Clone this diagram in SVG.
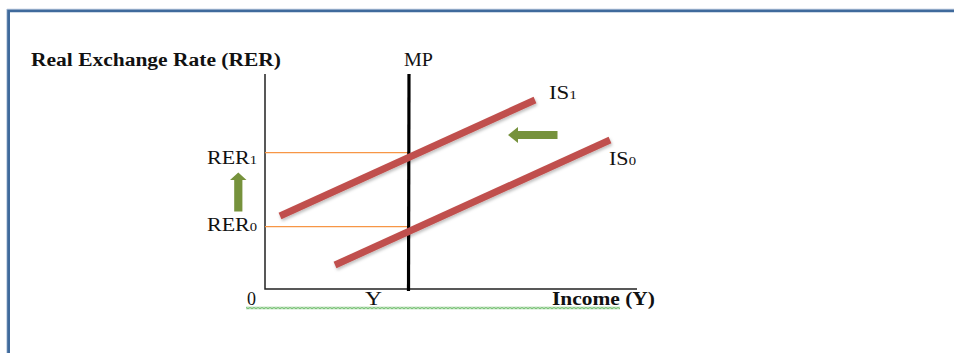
<svg xmlns="http://www.w3.org/2000/svg" width="954" height="353" viewBox="0 0 954 353">
  <defs>
    <style>
      .lbl { font-family: "Liberation Serif", "Times New Roman", serif; fill: #111; }
      .bold { font-weight: bold; }
      .axis { stroke: #222; stroke-width: 1.5; fill: none; }
      .guide { stroke: #F79646; stroke-width: 1.3; fill: none; }
      .is { stroke: #C0504D; stroke-width: 7; fill: none; }
      .arrow { fill: #76923C; }
    </style>
    <filter id="sh" x="-10%" y="-10%" width="120%" height="140%">
      <feDropShadow dx="1" dy="2" stdDeviation="1.5" flood-color="#000" flood-opacity="0.25"/>
    </filter>
    <pattern id="squig" x="246" y="306.5" width="4" height="3" patternUnits="userSpaceOnUse">
      <polyline points="0,0.7 2,2.3 4,0.7" fill="none" stroke="#4FAE4A" stroke-width="1.1"/>
    </pattern>
  </defs>
  <rect x="0" y="0" width="954" height="353" fill="#ffffff"/>
  <!-- frame -->
  <path d="M8.5 360 V10.8 H960" fill="none" stroke="#3F6A9C" stroke-width="3"/>
  <path d="M6.8 360 V9" fill="none" stroke="#A9BCD6" stroke-width="0.8"/>
  <path d="M7 9.2 H960" fill="none" stroke="#A9BCD6" stroke-width="0.8"/>

  <g id="axes">
    <path class="axis" d="M265 74 V289 H637"/>
  </g>

  <g id="connectors">
    <line class="guide" x1="265" y1="152.7" x2="409" y2="152.7"/>
    <line class="guide" x1="265" y1="226.7" x2="409" y2="226.7"/>
  </g>

  <g id="MP">
    <line x1="409" y1="74" x2="408.5" y2="291" stroke="#000" stroke-width="3.2"/>
    <text class="lbl" x="404" y="66" font-size="18" textLength="29" lengthAdjust="spacingAndGlyphs">MP</text>
  </g>

  <g id="IS1">
    <line class="is" x1="280" y1="216" x2="535" y2="100" filter="url(#sh)"/>
    <text class="lbl" x="549" y="99" font-size="18" textLength="28" lengthAdjust="spacingAndGlyphs">IS<tspan font-size="12">1</tspan></text>
  </g>

  <g id="IS0">
    <line class="is" x1="335" y1="265" x2="610" y2="140" filter="url(#sh)"/>
    <text class="lbl" x="609" y="165" font-size="18" textLength="27" lengthAdjust="spacingAndGlyphs">IS<tspan font-size="12">0</tspan></text>
  </g>

  <g id="shift-arrow">
    <path class="arrow" d="M508 135 L518 127 V131 H557.5 V139 H518 V143 Z"/>
  </g>

  <g id="rise-arrow">
    <path class="arrow" d="M238.3 172.5 L246.5 180 H242.4 V211.5 H234.2 V180 H230 Z"/>
  </g>

  <g id="labels">
    <text class="lbl bold" x="31" y="66" font-size="18" textLength="250" lengthAdjust="spacingAndGlyphs">Real Exchange Rate (RER)</text>
    <text class="lbl" x="207" y="164" font-size="18" textLength="50" lengthAdjust="spacingAndGlyphs">RER<tspan font-size="12">1</tspan></text>
    <text class="lbl" x="207" y="231" font-size="18" textLength="50" lengthAdjust="spacingAndGlyphs">RER<tspan font-size="12">0</tspan></text>
    <text class="lbl" x="247" y="305" font-size="18">0</text>
    <text class="lbl" x="365" y="305" font-size="18" textLength="17" lengthAdjust="spacingAndGlyphs">Y</text>
    <text class="lbl bold" x="552" y="305" font-size="18" textLength="103" lengthAdjust="spacingAndGlyphs">Income (Y)</text>
    <rect x="246" y="306.5" width="374" height="3" fill="url(#squig)"/>
  </g>
</svg>
